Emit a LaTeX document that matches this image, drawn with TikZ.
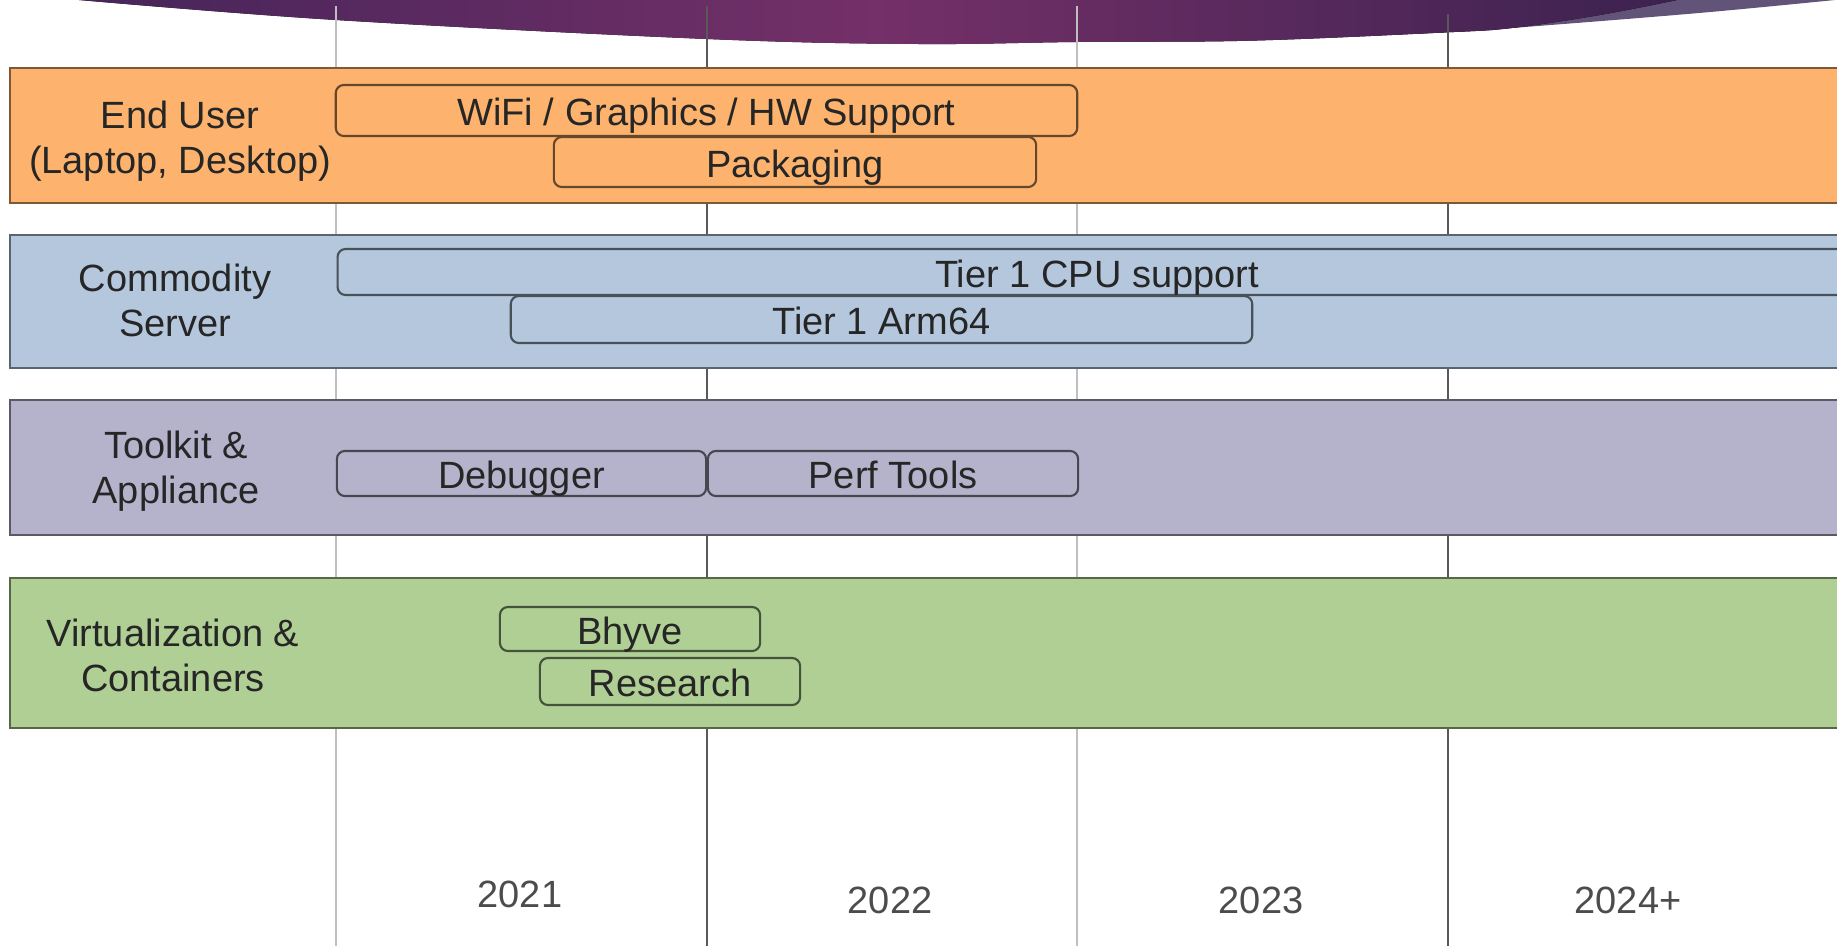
\documentclass[tikz,border=0pt]{standalone}
\usepackage{fontspec}
\setmainfont{Liberation Sans}

\definecolor{enduser}{HTML}{FDB36D}
\definecolor{server}{HTML}{B4C7DD}
\definecolor{toolkit}{HTML}{B5B2CB}
\definecolor{virt}{HTML}{AFCF94}
\definecolor{headdark}{HTML}{46255A}
\definecolor{headmid}{HTML}{743068}
\definecolor{headend}{HTML}{3C2250}
\definecolor{headlight}{HTML}{625478}

\begin{document}
\begin{tikzpicture}[x=0.01cm, y=-0.01cm,
        font=\fontsize{10.8}{12.8}\selectfont,
        lane/.style={draw=#1!50!black, fill=#1, line width=0.6pt},
        bar/.style={draw=#1!40!black, fill=#1, rounded corners=0.08cm, line width=0.6pt,
            inner sep=0pt, text height=9.2pt, text depth=0.5pt, text=black!85},
        lanetext/.style={align=center, text=black!85},
        yeartext/.style={text=black!70},
        gridlight/.style={draw=black!25, line width=0.6pt},
        griddark/.style={draw=black!65, line width=0.6pt}]
        \useasboundingbox (0,0) rectangle (1837,946);
        \clip (0,0) rectangle (1837,946);

        \fill[headlight] plot[smooth, tension=0.6] coordinates {(1300,38) (1448,32.3) (1512,28) (1699,13) (1845,-1)} -- (1845,-10) -- (1300,-10) -- cycle;
        \fill[left color=headdark, right color=headend, middle color=headmid]
            plot[smooth, tension=0.6] coordinates {(79,0) (336,20) (707,39) (917,44) (1077,42) (1250,40.7) (1448,32.3) (1512,28) (1600,15) (1677,0)} -- cycle;

        \draw[gridlight] (336,6) -- (336,946);
        \draw[griddark] (707,6) -- (707,946);
        \draw[gridlight] (1077,6) -- (1077,946);
        \draw[griddark] (1448,14) -- (1448,946);

        \draw[lane=enduser] (10,68) rectangle (1860,203);
        \draw[lane=server] (10,235) rectangle (1860,368);
        \draw[lane=toolkit] (10,400) rectangle (1860,535);
        \draw[lane=virt] (10,578) rectangle (1860,728);

        \node[lanetext] (user) at (180,141) {End User\\(Laptop, Desktop)};
        \node[lanetext] (commodity) at (175,300.5) {Commodity\\Server};
        \node[lanetext] (appliance) at (176,471) {Toolkit \&\\Appliance};
        \node[lanetext] (containers) at (173,655) {Virtualization \&\\Containers};

        \node[bar=enduser, minimum width=7.41cm, minimum height=0.51cm] (wifi) at (706.5,110.5) {WiFi / Graphics / HW Support};
        \node[bar=enduser, minimum width=4.82cm, minimum height=0.50cm] (packaging) at (795,162) {Packaging};
        \node[bar=server, minimum width=15.18cm, minimum height=0.46cm] (cpu) at (1097,272) {Tier 1 CPU support};
        \node[bar=server, minimum width=7.41cm, minimum height=0.47cm] (arm) at (881.5,319.5) {Tier 1 Arm64};
        \node[bar=toolkit, minimum width=3.69cm, minimum height=0.45cm] (debugger) at (521.5,473.5) {Debugger};
        \node[bar=toolkit, minimum width=3.70cm, minimum height=0.45cm] (perf) at (893,473.5) {Perf Tools};
        \node[bar=virt, minimum width=2.60cm, minimum height=0.44cm] (bhyve) at (630,629) {Bhyve};
        \node[bar=virt, minimum width=2.60cm, minimum height=0.47cm] (research) at (670,681.5) {Research};

        \node[yeartext] (y2021) at (520,894) {2021};
        \node[yeartext] (y2022) at (890,900) {2022};
        \node[yeartext] (y2023) at (1261,900) {2023};
        \node[yeartext] (y2024) at (1628,900) {2024+};
    \end{tikzpicture}
\end{document}
